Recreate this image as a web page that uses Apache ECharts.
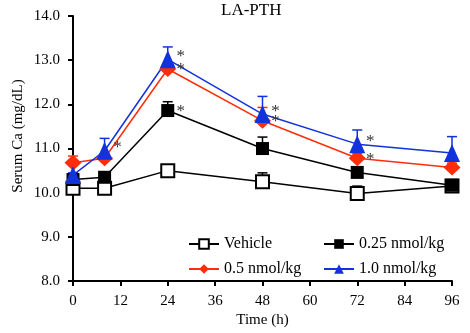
<!DOCTYPE html>
<html>
<head>
<meta charset="utf-8">
<script src="https://cdn.jsdelivr.net/npm/echarts@6/dist/echarts.min.js"></script>
<style>html,body{margin:0;padding:0;background:#fff}#c{width:470px;height:333px}</style>
</head>
<body>
<div id="c"></div>
<script>
// ---- data ----
const times = [0, 8, 24, 48, 72, 96];
const xTicks = [0, 12, 24, 36, 48, 60, 72, 84, 96];
const yTicks = [8.0, 9.0, 10.0, 11.0, 12.0, 13.0, 14.0];
const seriesNames = ['Vehicle', '0.25 nmol/kg', '0.5 nmol/kg', '1.0 nmol/kg'];
const vehicle    = [10.10, 10.10, 10.50, 10.25, 9.98, 10.15];
const vehicleErr = [0.08, 0.06, 0.10, 0.20, 0.17, 0.08];
const dose025    = [10.30, 10.35, 11.86, 11.00, 10.46, 10.17];
const dose025Err = [0.05, 0.05, 0.20, 0.26, 0.10, 0.08];
const dose05     = [10.68, 10.78, 12.80, 11.63, 10.78, 10.57];
const dose05Err  = [0.15, 0.10, 0.12, 0.30, 0.10, 0.10];
const dose10     = [10.40, 10.95, 13.02, 11.78, 11.10, 10.90];
const dose10Err  = [0.05, 0.28, 0.28, 0.40, 0.32, 0.37];
const sigVehicle = [0, 0, 0, 0, 0, 0];
const sig025     = [0, 0, 1, 0, 0, 0];
const sig05      = [0, 0, 1, 1, 1, 0];
const sig10      = [0, 1, 1, 1, 1, 0];

// ---- styling ----
const FONT = 'Liberation Serif';
const RED = '#ff2d0a';
const BLUE = '#1232dc';
const groups = [
  {name: seriesNames[0], vals: vehicle, err: vehicleErr, sig: sigVehicle, color: '#000', symbol: 'rect', size: 13, fill: '#fff', border: 2, starOff: [14, 0]},
  {name: seriesNames[1], vals: dose025, err: dose025Err, sig: sig025, color: '#000', symbol: 'rect', size: 13, fill: '#000', border: 0, starOff: [13, 1]},
  {name: seriesNames[2], vals: dose05, err: dose05Err, sig: sig05, color: RED, symbol: 'diamond', size: [17, 16], fill: RED, border: 0, starOff: [13, 1]},
  {name: seriesNames[3], vals: dose10, err: dose10Err, sig: sig10, color: BLUE, symbol: 'triangle', size: [16, 18], fill: BLUE, border: 0, starOff: [13, -3]}
];

const series = [];
groups.forEach(g => {
  series.push({
    type: 'custom',
    name: g.name + ' err',
    silent: true,
    data: times.map((t, i) => [t, g.vals[i], g.err[i]]),
    encode: {x: 0, y: 1},
    renderItem: function (params, api) {
      const p = api.coord([api.value(0), api.value(1)]);
      const top = api.coord([api.value(0), api.value(1) + api.value(2)]);
      const st = {stroke: g.color, lineWidth: 1.5};
      return {type: 'group', children: [
        {type: 'line', shape: {x1: p[0], y1: p[1], x2: p[0], y2: top[1]}, style: st},
        {type: 'line', shape: {x1: p[0] - 5, y1: top[1], x2: p[0] + 5, y2: top[1]}, style: st}
      ]};
    }
  });
  series.push({
    type: 'line',
    name: g.name,
    symbol: g.symbol,
    symbolSize: g.size,
    showAllSymbol: true,
    lineStyle: {color: g.color, width: 1.5},
    itemStyle: {color: g.fill, borderColor: g.color, borderWidth: g.border, opacity: 1},
    emphasis: {disabled: true},
    animation: false,
    data: times.map((t, i) => ({
      value: [t, g.vals[i]],
      label: g.sig[i] ? {show: true, formatter: '*', position: 'inside', offset: g.starOff,
        color: '#333', fontFamily: FONT, fontSize: 17} : {show: false}
    }))
  });
});

const chart = echarts.init(document.getElementById('c'), null, {renderer: 'canvas'});
const legendCommon = {
  orient: 'vertical', top: 231, itemWidth: 30, itemHeight: 12, itemGap: 9,
  textStyle: {fontFamily: FONT, fontSize: 16, color: '#000'}, selectedMode: false
};
chart.setOption({
  animation: false,
  backgroundColor: '#fff',
  title: {text: 'LA-PTH', left: 221, top: 2, padding: 0,
    textStyle: {fontFamily: FONT, fontSize: 17, fontWeight: 'normal', color: '#000'}},
  grid: {left: 73, right: 18, top: 16, bottom: 50, containLabel: false},
  legend: [
    Object.assign({left: 183, data: [seriesNames[0], seriesNames[2]]}, legendCommon),
    Object.assign({left: 318, data: [seriesNames[1], seriesNames[3]]}, legendCommon)
  ],
  xAxis: {
    type: 'value', min: xTicks[0], max: xTicks[xTicks.length - 1], interval: xTicks[1] - xTicks[0],
    name: 'Time (h)', nameLocation: 'middle', nameGap: 28,
    nameTextStyle: {fontFamily: FONT, fontSize: 15, color: '#000'},
    axisLine: {lineStyle: {color: '#000', width: 2}},
    axisTick: {show: true, length: 5, lineStyle: {color: '#000', width: 2}},
    axisLabel: {fontFamily: FONT, fontSize: 15, color: '#000', margin: 12},
    splitLine: {show: false}
  },
  yAxis: {
    type: 'value', min: yTicks[0], max: yTicks[yTicks.length - 1], interval: yTicks[1] - yTicks[0],
    axisLine: {show: true, lineStyle: {color: '#000', width: 2}},
    axisTick: {show: true, length: 5, lineStyle: {color: '#000', width: 2}},
    axisLabel: {fontFamily: FONT, fontSize: 15, color: '#000', margin: 13, formatter: v => v.toFixed(1)},
    splitLine: {show: false}
  },
  graphic: [{
    type: 'text', x: 18, y: 136, rotation: Math.PI / 2,
    style: {text: 'Serum Ca (mg/dL)', fontFamily: FONT, fontSize: 15, fill: '#000',
      textAlign: 'center', textVerticalAlign: 'middle'}
  }],
  series: series
});
</script>
</body>
</html>
